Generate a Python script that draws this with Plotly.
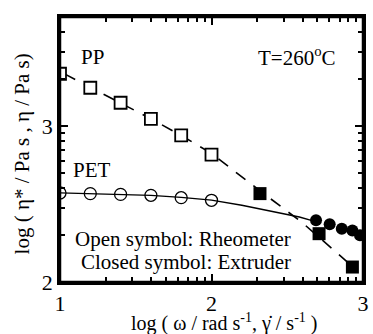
import numpy as np
import plotly.graph_objects as go

# ---- data ----
pp_rheo_x = [1.0, 1.2, 1.4, 1.6, 1.8, 2.0]
pp_rheo_y = [3.336, 3.246, 3.150, 3.047, 2.940, 2.817]
pp_ext_x = [2.32, 2.71, 2.93]
pp_ext_y = [2.567, 2.310, 2.096]
pp_fit_x = [1.03, 1.2, 1.4, 1.6, 1.8, 2.0, 2.3, 2.6, 2.93]
pp_fit_y = [3.335, 3.250, 3.150, 3.047, 2.940, 2.825, 2.60, 2.38, 2.10]

pet_rheo_x = [1.0, 1.2, 1.4, 1.6, 1.8, 2.0]
pet_rheo_y = [2.571, 2.567, 2.562, 2.556, 2.541, 2.524]
pet_ext_x = [2.69, 2.78, 2.86, 2.93, 2.98]
pet_ext_y = [2.396, 2.370, 2.342, 2.331, 2.300]
pet_fit_x = [1.0, 1.2, 1.4, 1.6, 1.8, 2.0, 2.2, 2.4, 2.58, 2.67]
pet_fit_y = [2.572, 2.568, 2.563, 2.556, 2.543, 2.525, 2.492, 2.452, 2.417, 2.392]

x_ticks = [1, 2, 3]
y_ticks = [2, 3]

FONT = "Liberation Serif"
BLACK = "#000000"

fig = go.Figure()
fig.add_trace(go.Scatter(x=pp_fit_x, y=pp_fit_y, mode="lines",
                         line=dict(color=BLACK, width=1.6, dash="12px,10px"),
                         showlegend=False))
fig.add_trace(go.Scatter(x=pet_fit_x, y=pet_fit_y, mode="lines",
                         line=dict(color=BLACK, width=1.4),
                         showlegend=False))
fig.add_trace(go.Scatter(x=pp_rheo_x, y=pp_rheo_y, mode="markers",
                         marker=dict(symbol="square", size=12, color="white",
                                     line=dict(color=BLACK, width=1.8)),
                         showlegend=False))
fig.add_trace(go.Scatter(x=pet_rheo_x, y=pet_rheo_y, mode="markers",
                         marker=dict(symbol="circle", size=12, color="rgba(255,255,255,0)",
                                     line=dict(color=BLACK, width=1.3)),
                         showlegend=False))
fig.add_trace(go.Scatter(x=pp_ext_x, y=pp_ext_y, mode="markers",
                         marker=dict(symbol="square", size=13, color=BLACK,
                                     line=dict(color=BLACK, width=0)),
                         showlegend=False))
fig.add_trace(go.Scatter(x=pet_ext_x, y=pet_ext_y, mode="markers",
                         marker=dict(symbol="circle", size=12, color=BLACK,
                                     line=dict(color=BLACK, width=0)),
                         showlegend=False))

def minor_log(lo, hi):
    vals = []
    for d in range(lo, hi):
        for k in range(2, 10):
            vals.append(d + np.log10(k))
    return vals

axis_common = dict(
    showgrid=False, zeroline=False, showline=True, linecolor=BLACK, linewidth=2.5,
    mirror="allticks", ticks="inside", ticklen=8, tickwidth=1.6, tickcolor=BLACK,
    tickfont=dict(family=FONT, size=22, color=BLACK), automargin=False,
)
fig.update_xaxes(range=[1, 3], tickmode="array", tickvals=x_ticks,
                 ticktext=[str(v) for v in x_ticks],
                 minor=dict(tickvals=minor_log(1, 3), ticks="inside", ticklen=5,
                            tickwidth=1.6, tickcolor=BLACK, showgrid=False),
                 **axis_common)
fig.update_yaxes(range=[2, 3.7], tickmode="array", tickvals=y_ticks,
                 ticktext=[str(v) for v in y_ticks],
                 minor=dict(tickvals=minor_log(2, 4), ticks="inside", ticklen=5,
                            tickwidth=1.6, tickcolor=BLACK, showgrid=False),
                 **axis_common)

# frame around the plot area
fig.add_shape(type="rect", xref="paper", yref="paper", x0=0, x1=1, y0=0, y1=1,
              line=dict(color=BLACK, width=2.5), fillcolor="rgba(0,0,0,0)", layer="above")

# plot-area edges in window pixels
PL, PT, PR, PB = 60, 16.5, 363, 281.7
PW, PH = PR - PL, PB - PT

ann = [
    dict(x=92, y=57, text="PP", size=21),
    dict(x=92, y=170, text="PET", size=21),
    dict(x=297, y=56, text="T=260<sup>o</sup>C", size=21),
    dict(x=183, y=239, text="Open symbol: Rheometer", size=21),
    dict(x=186, y=262, text="Closed symbol: Extruder", size=21),
    dict(x=224, y=322.5, text="log ( ω / rad s<sup>-1</sup>, γ̇ / s<sup>-1</sup> )", size=20),
]
annotations = []
for a in ann:
    annotations.append(dict(xref="paper", yref="paper",
                            x=(a["x"] - PL) / PW, y=1 - (a["y"] - PT) / PH,
                            text=a["text"], showarrow=False,
                            font=dict(family=FONT, size=a["size"], color=BLACK),
                            xanchor="center", yanchor="middle"))
annotations.append(dict(xref="paper", yref="paper",
                        x=(22 - PL) / PW, y=1 - (154 - PT) / PH,
                        text="log ( η* / Pa s , η / Pa s)", textangle=-90,
                        showarrow=False, font=dict(family=FONT, size=21, color=BLACK),
                        xanchor="center", yanchor="middle"))

fig.update_layout(width=373, height=334,
                  margin=dict(l=PL, r=373 - PR, t=PT, b=334 - PB, pad=0, autoexpand=False),
                  paper_bgcolor="white", plot_bgcolor="white",
                  annotations=annotations, showlegend=False)

fig.write_html("out.html", config={"displayModeBar": False},
               post_script="document.body.style.margin='0';"
                           "document.body.style.overflow='hidden';")
